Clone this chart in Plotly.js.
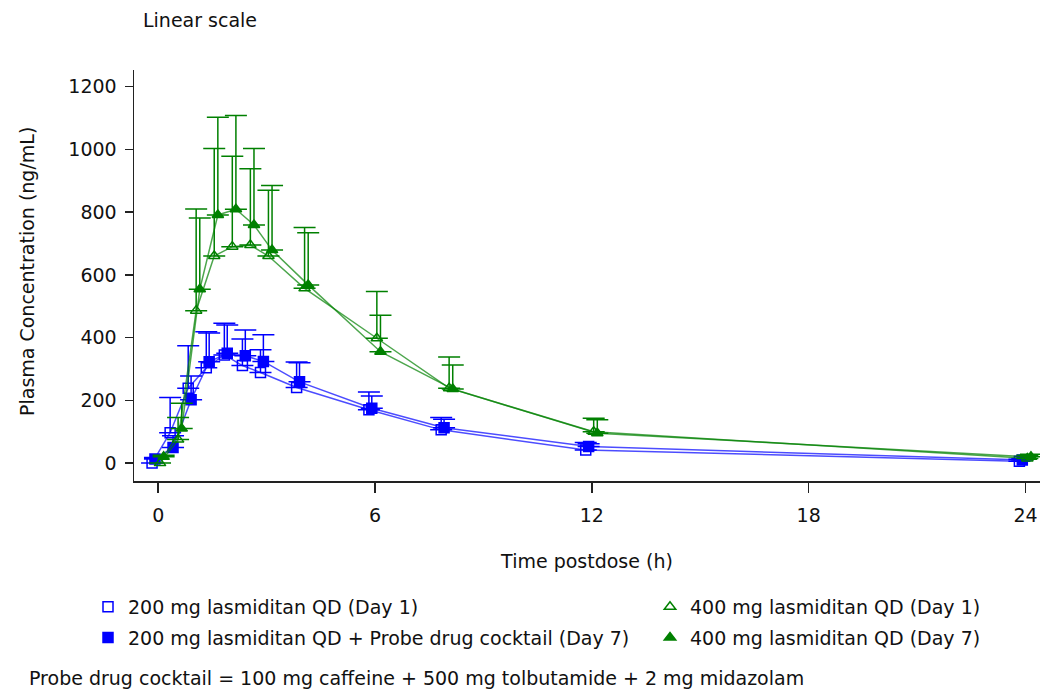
<!DOCTYPE html>
<html>
<head>
<meta charset="utf-8">
<script src="https://cdn.plot.ly/plotly-3.0.1.min.js"></script>
<style>html,body{margin:0;padding:0;background:#fff;}#chart{width:1042px;height:695px;}</style>
</head>
<body>
<div id="chart"></div>
<script>
// Nominal sampling times (h)
const times = [0, 0.5, 1, 1.5, 2, 2.5, 3, 4, 6, 8, 12, 24];

// Series names
const name200d1 = '200 mg lasmiditan QD (Day 1)';
const name200d7 = '200 mg lasmiditan QD + Probe drug cocktail (Day 7)';
const name400d1 = '400 mg lasmiditan QD (Day 1)';
const name400d7 = '400 mg lasmiditan QD (Day 7)';

// Mean plasma concentration (ng/mL)
const mean200d1 = [0, 97, 239, 304, 345, 311, 289, 241, 170, 106, 42, 6];
const mean200d7 = [13, 50, 202, 323, 350, 342, 324, 259, 175, 113, 53, 10];
const mean400d1 = [0, 75, 486, 660, 690, 695, 660, 557, 398, 239, 100, 15];
const mean400d7 = [20, 110, 554, 791, 809, 759, 679, 568, 355, 236, 95, 20];

// Standard deviation (upper error bar only)
const sd200d1 = [0, 112, 135, 115, 101, 85, 72, 81, 57, 39, 24, 6];
const sd200d7 = [5, 37, 76, 92, 90, 82, 85, 61, 39, 27, 9, 5];
const sd400d1 = [0, 70, 324, 343, 288, 243, 210, 194, 149, 99, 43, 10];
const sd400d7 = [5, 81, 227, 311, 299, 244, 206, 166, 116, 77, 43, 8];

// Axis ticks and titles
const xTicks = [0, 6, 12, 18, 24];
const yTicks = [0, 200, 400, 600, 800, 1000, 1200];
const xTitle = 'Time postdose (h)';
const yTitle = 'Plasma Concentration (ng/mL)';

const FONT = 'DejaVu Sans, Arial, sans-serif';
const BLUE = '#0000ff';
const GREEN = '#008000';

function series(name, mean, sd, offset, color, symbol, legendId, group) {
  const x = times.map(t => t + offset);
  const line = {
    type: 'scatter', mode: 'lines', x: x, y: mean,
    line: {color: color, width: 1.5}, opacity: 0.7,
    showlegend: false, hoverinfo: 'skip'
  };
  const pts = {
    type: 'scatter', mode: 'markers', x: x, y: mean, name: name,
    legend: legendId, legendgroup: group,
    marker: {symbol: symbol, size: 10, color: color, line: {color: color, width: 1.5}},
    error_y: {type: 'data', symmetric: false, array: sd, arrayminus: sd.map(() => 0),
              color: color, thickness: 1.5, width: 11}
  };
  return [line, pts];
}

const data = [].concat(
  series(name200d1, mean200d1, sd200d1, -0.17, BLUE, 'square-open', 'legend', 'a'),
  series(name200d7, mean200d7, sd200d7, -0.09, BLUE, 'square', 'legend', 'b'),
  series(name400d1, mean400d1, sd400d1, 0.05, GREEN, 'triangle-up-open', 'legend2', 'c'),
  series(name400d7, mean400d7, sd400d7, 0.15, GREEN, 'triangle-up', 'legend2', 'd')
);

const axisCommon = {
  showline: true, linecolor: '#222', linewidth: 1.5,
  ticks: 'outside', tickcolor: '#222', tickwidth: 1.5,
  showgrid: false, zeroline: false, automargin: false,
  tickfont: {family: FONT, size: 19, color: '#111'}
};

const layout = {
  width: 1042, height: 695, autosize: false,
  margin: {l: 134, r: 2, t: 70, b: 214, autoexpand: false},
  paper_bgcolor: '#fff', plot_bgcolor: '#fff',
  font: {family: FONT, size: 19, color: '#111'},
  title: {text: 'Linear scale', xref: 'container', x: 143 / 1042, xanchor: 'left',
          yref: 'container', y: 1 - 20 / 695, yanchor: 'middle',
          font: {family: FONT, size: 19, color: '#111'}},
  xaxis: Object.assign({}, axisCommon, {
    range: [-0.67, 24.4], tickvals: xTicks, ticktext: xTicks.map(String),
    ticklen: 10, ticklabelstandoff: 7,
    title: {text: xTitle, font: {family: FONT, size: 19, color: '#111'}, standoff: 29}
  }),
  yaxis: Object.assign({}, axisCommon, {
    range: [-57, 1253], tickvals: yTicks, ticktext: yTicks.map(String),
    ticklen: 8, ticklabelstandoff: 4
  }),
  legend: {
    xref: 'container', yref: 'container', x: 88 / 1042, y: 1 - 588 / 695,
    xanchor: 'left', yanchor: 'top', orientation: 'v', tracegroupgap: 3,
    bgcolor: 'rgba(0,0,0,0)', font: {family: FONT, size: 19, color: '#111'}
  },
  legend2: {
    xref: 'container', yref: 'container', x: 650 / 1042, y: 1 - 588 / 695,
    xanchor: 'left', yanchor: 'top', orientation: 'v', tracegroupgap: 3,
    bgcolor: 'rgba(0,0,0,0)', font: {family: FONT, size: 19, color: '#111'}
  },
  annotations: [{
    text: yTitle, textangle: -90,
    xref: 'paper', yref: 'paper', x: (27 - 134) / 906, y: (481 - 272) / 411,
    xanchor: 'center', yanchor: 'middle', showarrow: false,
    font: {family: FONT, size: 19, color: '#111'}
  }, {
    text: 'Probe drug cocktail = 100 mg caffeine + 500 mg tolbutamide + 2 mg midazolam',
    xref: 'paper', yref: 'paper', x: (27 - 134) / 906, y: (481 - 678) / 411,
    xanchor: 'left', yanchor: 'middle', showarrow: false,
    font: {family: FONT, size: 19, color: '#111'}
  }]
};

Plotly.newPlot('chart', data, layout, {displayModeBar: false, staticPlot: true});
</script>
</body>
</html>
